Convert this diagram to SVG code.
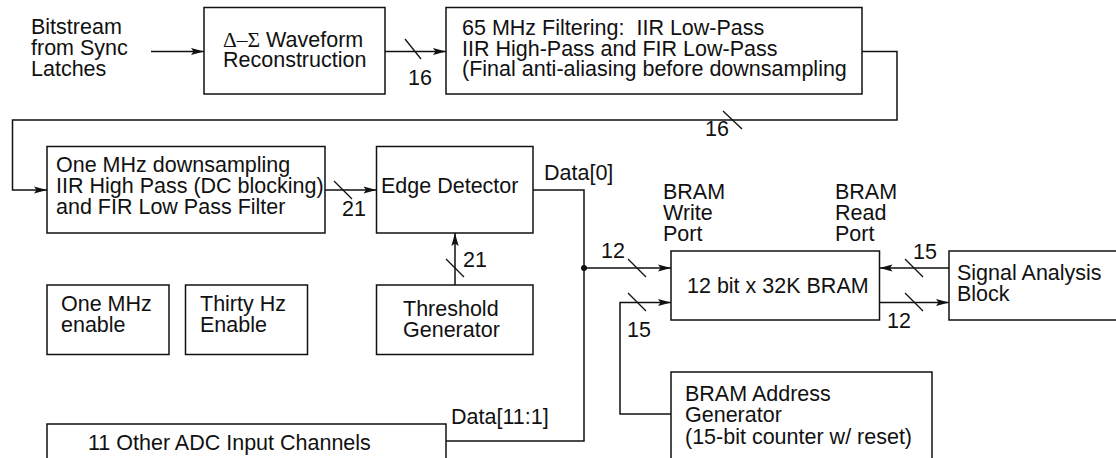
<svg xmlns="http://www.w3.org/2000/svg" width="1116" height="458" viewBox="0 0 1116 458">
  <style>
    text { font-family: "Liberation Sans", Arial, Helvetica, sans-serif; font-size: 21.5px; fill: #111; }
    .sym { font-family: "Liberation Serif", "Times New Roman", serif; }
    .box { fill: #fff; stroke: #111; stroke-width: 1.5; }
    .wire { fill: none; stroke: #111; stroke-width: 1.5; }
    .arrow { marker-end: url(#head); }
    .bus { fill: none; stroke: #111; stroke-width: 1.3; }
  </style>
  <defs>
    <marker id="head" markerUnits="userSpaceOnUse" markerWidth="16" markerHeight="10" viewBox="-14 -5 16 10" refX="0" refY="0" orient="auto">
      <path d="M0,0 L-13,-3.6 L-10.5,0 L-13,3.6 Z" fill="#111"/>
    </marker>
  </defs>

  <rect width="1116" height="458" fill="#fff"/>

  <!-- input label -->
  <g id="input-label">
    <text x="31" y="34">Bitstream</text>
    <text x="31" y="55">from Sync</text>
    <text x="31" y="76">Latches</text>
  </g>

  <g id="waveform-reconstruction">
    <rect class="box" x="204" y="7.5" width="181" height="86.5"/>
    <text x="223" y="47"><tspan class="sym">Δ–Σ</tspan> Waveform</text>
    <text x="223" y="67">Reconstruction</text>
  </g>

  <g id="mhz65-filtering">
    <rect class="box" x="446" y="7.5" width="416" height="86.5"/>
    <text x="462" y="35" xml:space="preserve">65 MHz Filtering:  IIR Low-Pass</text>
    <text x="462" y="55.5">IIR High-Pass and FIR Low-Pass</text>
    <text x="462" y="76">(Final anti-aliasing before downsampling</text>
  </g>

  <g id="downsampling-filter">
    <rect class="box" x="47" y="146.5" width="278" height="86.5"/>
    <text x="56" y="172">One MHz downsampling</text>
    <text x="56" y="193">IIR High Pass (DC blocking)</text>
    <text x="56" y="214">and FIR Low Pass Filter</text>
  </g>

  <g id="edge-detector">
    <rect class="box" x="376.5" y="146.5" width="156.5" height="86.5"/>
    <text x="381" y="193">Edge Detector</text>
  </g>

  <g id="one-mhz-enable">
    <rect class="box" x="47" y="285" width="122" height="69.5"/>
    <text x="61" y="310.5">One MHz</text>
    <text x="61" y="331.5">enable</text>
  </g>

  <g id="thirty-hz-enable">
    <rect class="box" x="185.5" y="285" width="122" height="69.5"/>
    <text x="200" y="310.5">Thirty Hz</text>
    <text x="200" y="331.5">Enable</text>
  </g>

  <g id="threshold-generator">
    <rect class="box" x="376.5" y="285" width="156.5" height="69.5"/>
    <text x="403" y="315.5">Threshold</text>
    <text x="403" y="336.5">Generator</text>
  </g>

  <g id="other-adc-channels">
    <rect class="box" x="47" y="424" width="399" height="60"/>
    <text x="88" y="450">11 Other ADC Input Channels</text>
  </g>

  <g id="bram">
    <rect class="box" x="671" y="251" width="208.5" height="69"/>
    <text x="687" y="293">12 bit x 32K BRAM</text>
  </g>

  <g id="bram-port-labels">
    <text x="663" y="199">BRAM</text>
    <text x="663" y="220">Write</text>
    <text x="663" y="241">Port</text>
    <text x="835" y="199">BRAM</text>
    <text x="835" y="220">Read</text>
    <text x="835" y="241">Port</text>
  </g>

  <g id="signal-analysis">
    <rect class="box" x="949" y="251" width="200" height="69"/>
    <text x="957" y="280">Signal Analysis</text>
    <text x="957" y="301">Block</text>
  </g>

  <g id="bram-address-generator">
    <rect class="box" x="671" y="372" width="261" height="110"/>
    <text x="685" y="401">BRAM Address</text>
    <text x="685" y="422">Generator</text>
    <text x="685" y="444">(15-bit counter w/ reset)</text>
  </g>

  <!-- connectors, bus-width ticks and labels -->
  <g id="connectors">
    <path class="wire arrow" d="M151,51.5 H204"/>
    <path class="wire arrow" d="M385,51.5 H446"/>
    <path class="wire arrow" d="M862,51.5 H897 V120 H12.5 V190 H47"/>
    <path class="wire arrow" d="M325,190 H376.5"/>
    <path class="wire arrow" d="M455,285 V233"/>
    <path class="wire" d="M533,190 H584 V441 H446"/>
    <path class="wire arrow" d="M584,268 H671"/>
    <path class="wire arrow" d="M671,414 H620 V302.5 H671"/>
    <path class="wire arrow" d="M949,268 H879.5"/>
    <path class="wire arrow" d="M879.5,302.5 H949"/>
    <circle cx="584" cy="268" r="3" fill="#111"/>

    <path class="bus" d="M405,39 L421,59"/>
    <path class="bus" d="M723,111 L742,129"/>
    <path class="bus" d="M334,181 L352,199"/>
    <path class="bus" d="M446,259 L464,277"/>
    <path class="bus" d="M628,259 L646,277"/>
    <path class="bus" d="M628,293 L646,311"/>
    <path class="bus" d="M905,259 L923,277"/>
    <path class="bus" d="M905,293 L923,311"/>

    <text x="408" y="85">16</text>
    <text x="705" y="136">16</text>
    <text x="342" y="216">21</text>
    <text x="463" y="267">21</text>
    <text x="601" y="258">12</text>
    <text x="627" y="337">15</text>
    <text x="913" y="259">15</text>
    <text x="887" y="328">12</text>
    <text x="544" y="180">Data[0]</text>
    <text x="451" y="424">Data[11:1]</text>
  </g>
</svg>
